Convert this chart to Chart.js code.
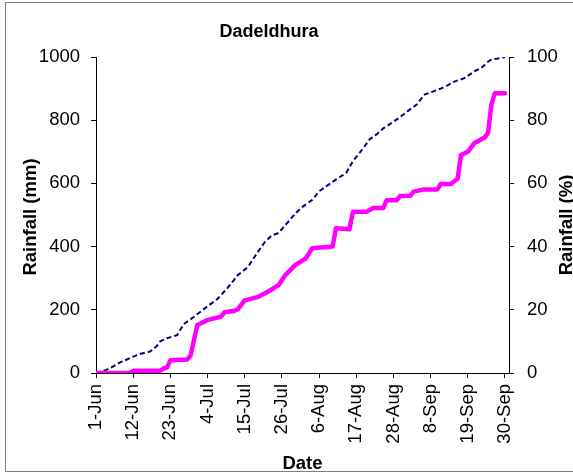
<!DOCTYPE html>
<html>
<head>
<meta charset="utf-8">
<script src="https://cdn.jsdelivr.net/npm/chart.js@4"></script>
<style>
  html, body { margin: 0; padding: 0; background: #fff; }
  #wrap { width: 573px; height: 474px; position: relative; }
</style>
</head>
<body>
<div id="wrap"><canvas id="rainChart" width="573" height="474"></canvas></div>
<script>
// tick labels on the date axis (every 11 days from 1-Jun)
const tickDays = [0, 11, 22, 33, 44, 55, 66, 77, 88, 99, 110, 121];
const tickLabels = ['1-Jun', '12-Jun', '23-Jun', '4-Jul', '15-Jul', '26-Jul',
    '6-Aug', '17-Aug', '28-Aug', '8-Sep', '19-Sep', '30-Sep'];

// cumulative rainfall (mm), day index from 1-Jun
const rainDays = [0, 10, 11, 19, 20, 21, 22, 27, 28, 29, 30, 33, 37, 38, 41, 42, 44, 48, 51, 54,
    56, 59, 62, 64, 70, 71, 75, 76, 80, 82, 85, 86, 89, 90, 93, 94, 97, 101, 102, 105,
    107, 108, 110, 112, 115, 116, 117, 118, 121];
const rainMm = [0, 0, 7, 7, 15, 17, 40, 43, 55, 105, 152, 168, 178, 192, 197, 202, 230, 241, 258, 278,
    310, 342, 362, 395, 400, 458, 455, 510, 510, 522, 522, 547, 547, 560, 561, 574, 581, 581, 598, 598,
    615, 690, 700, 728, 745, 760, 850, 885, 885];

// cumulative rainfall (%)
const pctDays = [0, 3, 5, 7, 9, 11, 13, 16, 18, 19, 21, 24, 26, 29, 32, 36, 39, 42, 45, 48,
    50, 52, 54, 57, 59, 61, 64, 66, 68, 71, 74, 76, 79, 81, 83, 85, 88, 90, 93, 95,
    97, 100, 102, 104, 106, 109, 112, 114, 116, 117, 119, 121];
const pctVals = [0, 1, 2, 3.3, 4.2, 5.2, 6, 6.8, 8.5, 10, 11, 12, 15.5, 17.8, 20.3, 23.5, 27, 31, 33.6, 38.5,
    41.5, 43.5, 44.3, 48, 50.5, 52.5, 54.8, 57.5, 59, 61.2, 63.3, 67, 71, 74, 75.5, 77.4, 79.5, 81, 83.5, 85,
    88, 89.2, 90, 91, 92.2, 93.3, 95.5, 96.5, 98.5, 99.2, 99.5, 100];

const FONT = '"Liberation Sans", Arial, sans-serif';

const frame = {
    id: 'frame',
    afterDraw(chart) {
        const ctx = chart.ctx;
        const area = chart.chartArea;
        ctx.save();
        ctx.strokeStyle = '#808080';
        ctx.lineWidth = 1;
        ctx.strokeRect(5.5, 2.5, 570, 469);

        ctx.fillStyle = '#000';
        ctx.textAlign = 'center';
        ctx.textBaseline = 'middle';
        ctx.font = 'bold 18px ' + FONT;
        ctx.fillText('Dadeldhura', 269, 32);

        ctx.font = 'bold 18.5px ' + FONT;
        ctx.fillText('Date', (area.left + area.right) / 2, 464);

        ctx.translate(31, 217);
        ctx.rotate(-Math.PI / 2);
        ctx.fillText('Rainfall (mm)', 0, 0);
        ctx.setTransform(1, 0, 0, 1, 0, 0);
        ctx.translate(567, 225);
        ctx.rotate(-Math.PI / 2);
        ctx.fillText('Rainfall (%)', 0, 0);
        ctx.restore();
    }
};

new Chart(document.getElementById('rainChart'), {
    type: 'line',
    data: {
        datasets: [{
            label: 'Rainfall (mm)',
            data: rainDays.map((d, i) => ({ x: d, y: rainMm[i] })),
            yAxisID: 'y',
            borderColor: '#ff00ff',
            borderWidth: 4.5,
            borderJoinStyle: 'round',
            borderCapStyle: 'round',
            pointRadius: 0,
            tension: 0,
            fill: false
        }, {
            label: 'Rainfall (%)',
            data: pctDays.map((d, i) => ({ x: d, y: pctVals[i] })),
            yAxisID: 'y1',
            borderColor: '#000080',
            borderWidth: 2,
            borderDash: [5, 3],
            pointRadius: 0,
            tension: 0,
            fill: false
        }]
    },
    options: {
        responsive: false,
        animation: false,
        layout: { padding: { top: 57, left: 0, right: 0, bottom: 0 } },
        plugins: {
            legend: { display: false },
            title: { display: false },
            tooltip: { enabled: false }
        },
        scales: {
            x: {
                type: 'linear',
                min: 0,
                max: 122.2,
                afterBuildTicks: scale => {
                    scale.ticks = tickDays.map(v => ({ value: v }));
                },
                afterFit: scale => { scale.height = 101; },
                ticks: {
                    autoSkip: false,
                    minRotation: 90,
                    maxRotation: 90,
                    padding: 6,
                    color: '#000',
                    font: { family: FONT, size: 18.5 },
                    callback: value => tickLabels[tickDays.indexOf(value)]
                },
                grid: { drawOnChartArea: false, drawTicks: true, tickLength: 5, color: '#000' },
                border: { display: true, color: '#000', width: 1 }
            },
            y: {
                position: 'left',
                min: 0,
                max: 1000,
                afterFit: scale => { scale.width = 96; },
                ticks: {
                    stepSize: 200,
                    padding: 11,
                    color: '#000',
                    font: { family: FONT, size: 18.5 },
                    callback: value => String(value)
                },
                grid: { drawOnChartArea: false, drawTicks: true, tickLength: 5, color: '#000' },
                border: { display: true, color: '#000', width: 1 }
            },
            y1: {
                position: 'right',
                min: 0,
                max: 100,
                afterFit: scale => { scale.width = 64; },
                ticks: {
                    stepSize: 20,
                    padding: 13,
                    color: '#000',
                    font: { family: FONT, size: 18.5 },
                    callback: value => String(value)
                },
                grid: { drawOnChartArea: false, drawTicks: true, tickLength: 5, color: '#000' },
                border: { display: true, color: '#000', width: 1 }
            }
        }
    },
    plugins: [frame]
});
</script>
</body>
</html>
